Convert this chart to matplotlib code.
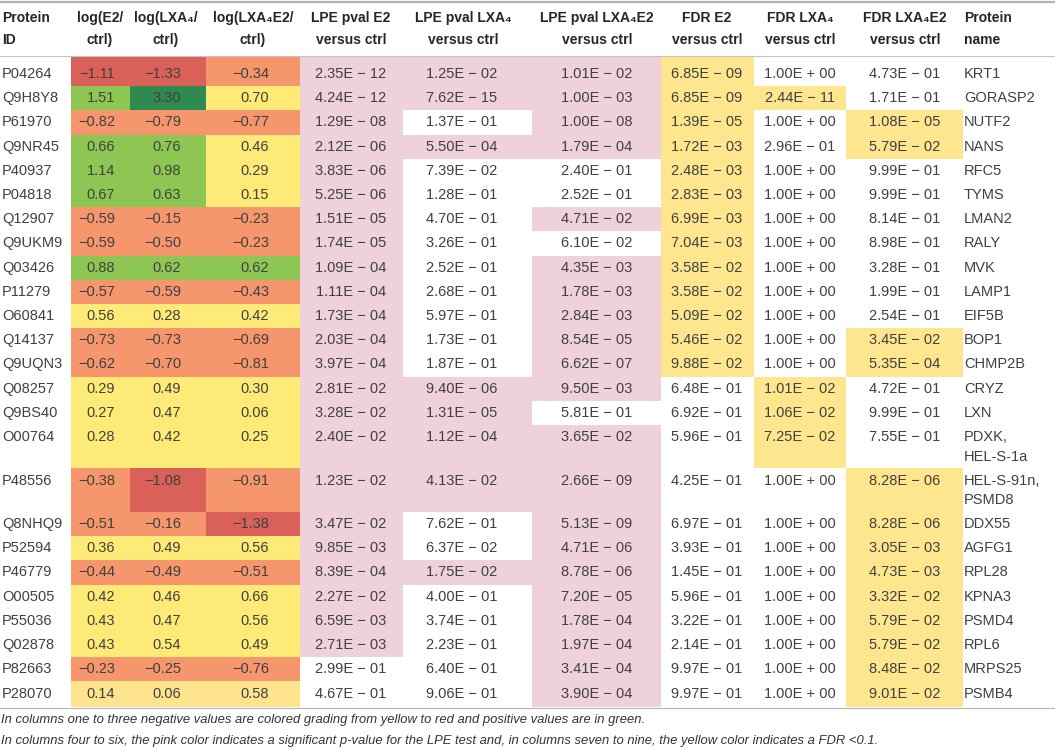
import matplotlib as mpl
mpl.use('Agg')
import matplotlib.pyplot as plt
from matplotlib.patches import Rectangle

plt.rcParams['font.family'] = ['Liberation Sans', 'DejaVu Sans']

# ---- data ----
protein_ids = ['P04264', 'Q9H8Y8', 'P61970', 'Q9NR45', 'P40937', 'P04818', 'Q12907',
               'Q9UKM9', 'Q03426', 'P11279', 'O60841', 'Q14137', 'Q9UQN3', 'Q08257',
               'Q9BS40', 'O00764', 'P48556', 'Q8NHQ9', 'P52594', 'P46779', 'O00505',
               'P55036', 'Q02878', 'P82663', 'P28070']
protein_names = ['KRT1', 'GORASP2', 'NUTF2', 'NANS', 'RFC5', 'TYMS', 'LMAN2', 'RALY', 'MVK',
                 'LAMP1', 'EIF5B', 'BOP1', 'CHMP2B', 'CRYZ', 'LXN', 'PDXK,\nHEL-S-1a',
                 'HEL-S-91n,\nPSMD8', 'DDX55', 'AGFG1', 'RPL28', 'KPNA3', 'PSMD4', 'RPL6',
                 'MRPS25', 'PSMB4']
log_e2 = [-1.11, 1.51, -0.82, 0.66, 1.14, 0.67, -0.59, -0.59, 0.88, -0.57, 0.56, -0.73, -0.62,
          0.29, 0.27, 0.28, -0.38, -0.51, 0.36, -0.44, 0.42, 0.43, 0.43, -0.23, 0.14]
log_lxa4 = [-1.33, 3.30, -0.79, 0.76, 0.98, 0.63, -0.15, -0.50, 0.62, -0.59, 0.28, -0.73, -0.70,
            0.49, 0.47, 0.42, -1.08, -0.16, 0.49, -0.49, 0.46, 0.47, 0.54, -0.25, 0.06]
log_lxa4e2 = [-0.34, 0.70, -0.77, 0.46, 0.29, 0.15, -0.23, -0.23, 0.62, -0.43, 0.42, -0.69, -0.81,
              0.30, 0.06, 0.25, -0.91, -1.38, 0.56, -0.51, 0.66, 0.56, 0.49, -0.76, 0.58]
# colour grade of the three log columns (R red, S salmon, Y yellow, L light yellow, G green, D dark green)
grade_e2 = ['R', 'G', 'S', 'G', 'G', 'G', 'S', 'S', 'G', 'S', 'Y', 'S', 'S',
            'Y', 'Y', 'Y', 'S', 'S', 'Y', 'S', 'Y', 'Y', 'Y', 'S', 'L']
grade_lxa4 = ['R', 'D', 'S', 'G', 'G', 'G', 'S', 'S', 'G', 'S', 'Y', 'S', 'S',
              'Y', 'Y', 'Y', 'R', 'S', 'Y', 'S', 'Y', 'Y', 'Y', 'S', 'L']
grade_lxa4e2 = ['S', 'Y', 'S', 'Y', 'Y', 'Y', 'S', 'S', 'G', 'S', 'Y', 'S', 'S',
                'Y', 'Y', 'Y', 'S', 'R', 'Y', 'S', 'Y', 'Y', 'Y', 'S', 'L']
lpe_e2 = ['2.35E-12', '4.24E-12', '1.29E-08', '2.12E-06', '3.83E-06', '5.25E-06', '1.51E-05',
          '1.74E-05', '1.09E-04', '1.11E-04', '1.73E-04', '2.03E-04', '3.97E-04', '2.81E-02',
          '3.28E-02', '2.40E-02', '1.23E-02', '3.47E-02', '9.85E-03', '8.39E-04', '2.27E-02',
          '6.59E-03', '2.71E-03', '2.99E-01', '4.67E-01']
lpe_lxa4 = ['1.25E-02', '7.62E-15', '1.37E-01', '5.50E-04', '7.39E-02', '1.28E-01', '4.70E-01',
            '3.26E-01', '2.52E-01', '2.68E-01', '5.97E-01', '1.73E-01', '1.87E-01', '9.40E-06',
            '1.31E-05', '1.12E-04', '4.13E-02', '7.62E-01', '6.37E-02', '1.75E-02', '4.00E-01',
            '3.74E-01', '2.23E-01', '6.40E-01', '9.06E-01']
lpe_lxa4e2 = ['1.01E-02', '1.00E-03', '1.00E-08', '1.79E-04', '2.40E-01', '2.52E-01', '4.71E-02',
              '6.10E-02', '4.35E-03', '1.78E-03', '2.84E-03', '8.54E-05', '6.62E-07', '9.50E-03',
              '5.81E-01', '3.65E-02', '2.66E-09', '5.13E-09', '4.71E-06', '8.78E-06', '7.20E-05',
              '1.78E-04', '1.97E-04', '3.41E-04', '3.90E-04']
fdr_e2 = ['6.85E-09', '6.85E-09', '1.39E-05', '1.72E-03', '2.48E-03', '2.83E-03', '6.99E-03',
          '7.04E-03', '3.58E-02', '3.58E-02', '5.09E-02', '5.46E-02', '9.88E-02', '6.48E-01',
          '6.92E-01', '5.96E-01', '4.25E-01', '6.97E-01', '3.93E-01', '1.45E-01', '5.96E-01',
          '3.22E-01', '2.14E-01', '9.97E-01', '9.97E-01']
fdr_lxa4 = ['1.00E+00', '2.44E-11', '1.00E+00', '2.96E-01', '1.00E+00', '1.00E+00', '1.00E+00',
            '1.00E+00', '1.00E+00', '1.00E+00', '1.00E+00', '1.00E+00', '1.00E+00', '1.01E-02',
            '1.06E-02', '7.25E-02', '1.00E+00', '1.00E+00', '1.00E+00', '1.00E+00', '1.00E+00',
            '1.00E+00', '1.00E+00', '1.00E+00', '1.00E+00']
fdr_lxa4e2 = ['4.73E-01', '1.71E-01', '1.08E-05', '5.79E-02', '9.99E-01', '9.99E-01', '8.14E-01',
              '8.98E-01', '3.28E-01', '1.99E-01', '2.54E-01', '3.45E-02', '5.35E-04', '4.72E-01',
              '9.99E-01', '7.55E-01', '8.28E-06', '8.28E-06', '3.05E-03', '4.73E-03', '3.32E-02',
              '5.79E-02', '5.79E-02', '8.48E-02', '9.01E-02']

headers = ['Protein\nID', 'log(E2/\nctrl)', 'log(LXA\u2084/\nctrl)', 'log(LXA\u2084E2/\nctrl)',
           'LPE pval E2\nversus ctrl', 'LPE pval LXA\u2084\nversus ctrl',
           'LPE pval LXA\u2084E2\nversus ctrl', 'FDR E2\nversus ctrl', 'FDR LXA\u2084\nversus ctrl',
           'FDR LXA\u2084E2\nversus ctrl', 'Protein\nname']
notes = ['In columns one to three negative values are colored grading from yellow to red and positive values are in green.',
         'In columns four to six, the pink color indicates a significant p-value for the LPE test and, in columns seven to nine, the yellow color indicates a FDR <0.1.']

# ---- style / layout ----
grade_colors = {'R': '#d9615a', 'S': '#f6966d', 'Y': '#feea76', 'L': '#fee48c',
                'G': '#8dc652', 'D': '#2f8a4f'}
pink = '#efd1d9'
fdr_yellow = '#fee68f'
txt = '#404040'
edges = [0, 71, 130, 206, 300, 403, 532, 661, 754, 846, 963, 1055]
head_x = [2, 100, 166, 253, 351, 463, 597, 707, 800, 905, 964]
log_right = [115, 181, 269]
p_center = [351, 462, 597, 707, 800, 905]
fs = 10.5


def fmt_p(s):
    m, e = s.split('E')
    sign = '\u2212' if e[0] == '-' else '+'
    return '%sE %s %s' % (m, sign, e[1:])


def fmt_log(v):
    return ('\u2212%.2f' % -v) if v < 0 else '%.2f' % v


fig = plt.figure(figsize=(10.55, 7.5), dpi=100)
ax = fig.add_axes([0, 0, 1, 1])
ax.set_xlim(0, 1055)
ax.set_ylim(750, 0)
ax.axis('off')

# row geometry
tops, heights = [], []
y = 62
for nm in protein_names:
    h = 43.5 if '\n' in nm else 24.2
    tops.append(y)
    heights.append(h)
    y += h
text_y = [t + 12.1 for t in tops]
heights[0] += tops[0] - 56
tops[0] = 56
heights[-1] = 707 - tops[-1]

# header
ax.plot([0, 1055], [1.5, 1.5], color='#b4b4b4', lw=1.6)
ax.plot([0, 1055], [55.5, 55.5], color='#c4c4c4', lw=0.8)
ax.plot([0, 1055], [707.5, 707.5], color='#b4b4b4', lw=0.8)
for i, hd in enumerate(headers):
    l1, l2 = hd.split('\n')
    ha = 'left' if i in (0, 10) else 'center'
    for line, yy in ((l1, 18), (l2, 40)):
        ax.text(head_x[i], yy, line, ha=ha, va='center', fontsize=10,
                fontweight='bold', color='#262626')

logs = [log_e2, log_lxa4, log_lxa4e2]
grades = [grade_e2, grade_lxa4, grade_lxa4e2]
pcols = [lpe_e2, lpe_lxa4, lpe_lxa4e2, fdr_e2, fdr_lxa4, fdr_lxa4e2]

for r in range(len(protein_ids)):
    t, h, ty = tops[r], heights[r], text_y[r]
    ax.text(2, ty, protein_ids[r], ha='left', va='center', fontsize=fs, color=txt)
    for k, nm_line in enumerate(protein_names[r].split('\n')):
        ax.text(964, ty + 19.5 * k, nm_line, ha='left', va='center', fontsize=fs, color=txt)
    for c in range(3):
        ax.add_patch(Rectangle((edges[c + 1], t), edges[c + 2] - edges[c + 1], h,
                               facecolor=grade_colors[grades[c][r]], edgecolor='none'))
        ax.text(log_right[c], ty, fmt_log(logs[c][r]), ha='right', va='center',
                fontsize=fs, color=txt)
    for c in range(6):
        val = float(pcols[c][r])
        thr, col = (0.05, pink) if c < 3 else (0.1, fdr_yellow)
        if val < thr:
            ax.add_patch(Rectangle((edges[c + 4], t), edges[c + 5] - edges[c + 4], h,
                                   facecolor=col, edgecolor='none'))
        ax.text(p_center[c], ty, fmt_p(pcols[c][r]), ha='center', va='center',
                fontsize=fs, color=txt)

ax.text(1, 720, notes[0], ha='left', va='center', fontsize=9.4, style='italic', color='#333333')
ax.text(1, 741, notes[1], ha='left', va='center', fontsize=9.4, style='italic', color='#333333')

fig.savefig('out.png', dpi=100)
